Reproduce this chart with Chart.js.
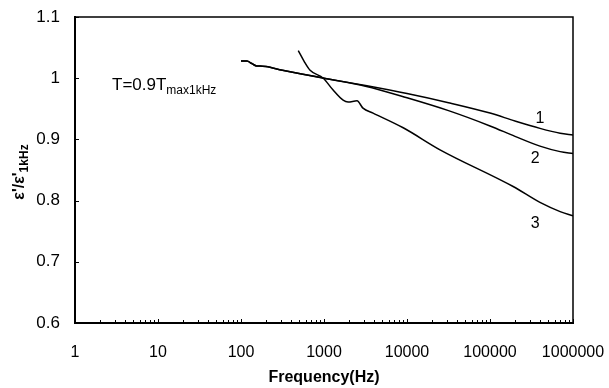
<!DOCTYPE html>
<html>
<head>
<meta charset="utf-8">
<script src="https://cdn.jsdelivr.net/npm/chart.js@4.4.1/dist/chart.umd.min.js"></script>
<style>
  html, body { margin: 0; padding: 0; background: #fff; }
  #wrap { width: 609px; height: 388px; }
</style>
</head>
<body>
<div id="wrap"><canvas id="chart"></canvas></div>
<script>
// frequency (Hz) / normalised permittivity
const curve1Freq = [100, 118, 135, 155, 170, 200, 316, 1000, 3162, 10000, 31623, 100000, 200000, 400000, 700000, 1000000]
const curve1Val  = [1.028, 1.028, 1.024, 1.020, 1.020, 1.019, 1.013, 1.000, 0.988, 0.975, 0.960, 0.943, 0.930, 0.918, 0.910, 0.907]

const curve2Freq = [100, 118, 135, 155, 170, 200, 316, 1000, 3162, 10000, 31623, 100000, 200000, 400000, 700000, 1000000]
const curve2Val  = [1.028, 1.028, 1.024, 1.020, 1.020, 1.019, 1.013, 1.000, 0.987, 0.968, 0.947, 0.922, 0.905, 0.889, 0.880, 0.877]

const curve3Freq = [490, 574, 680, 980, 1280, 1700, 1950, 2500, 2950, 3900, 9000, 25000, 190000, 400000, 700000, 1000000]
const curve3Val  = [1.045, 1.028, 1.013, 1.000, 0.981, 0.964, 0.961, 0.963, 0.951, 0.943, 0.919, 0.883, 0.823, 0.797, 0.782, 0.775]

const xTickValues = [1, 10, 100, 1000, 10000, 100000, 1000000]
const curveLabels = ['1', '2', '3']
const curveLabelPos = [[400000, 0.934], [350000, 0.868], [350000, 0.762]]

const FONT = "'Liberation Sans', Arial, sans-serif"

function toPoints (xs, ys) {
  return xs.map((x, i) => ({ x: x, y: ys[i] }))
}

function lineSet (xs, ys) {
  return {
    data: toPoints(xs, ys),
    showLine: true,
    borderColor: '#000',
    borderWidth: 1.5,
    pointRadius: 0,
    cubicInterpolationMode: 'monotone',
    fill: false
  }
}

// no extra room for overhanging tick labels, layout.padding decides the plot box
function noOverhang (scale) {
  scale.paddingLeft = 0
  scale.paddingRight = 0
  scale.paddingTop = 0
  scale.paddingBottom = 0
}

const decorations = {
  id: 'decorations',
  afterDraw (chart) {
    const ctx = chart.ctx
    const area = chart.chartArea
    const xs = chart.scales.x
    const ys = chart.scales.y
    ctx.save()
    ctx.strokeStyle = '#000'
    ctx.fillStyle = '#000'

    // frame top + right
    ctx.lineWidth = 1.5
    ctx.beginPath()
    ctx.moveTo(area.left, area.top)
    ctx.lineTo(area.right, area.top)
    ctx.lineTo(area.right, area.bottom)
    ctx.stroke()

    // inward ticks
    ctx.lineWidth = 1
    ctx.beginPath()
    for (let d = 0; d < 6; d++) {
      for (let m = 2; m <= 10; m++) {
        const px = Math.round(xs.getPixelForValue(m * Math.pow(10, d))) + 0.5
        const len = m === 10 ? 4 : 3
        ctx.moveTo(px, area.bottom)
        ctx.lineTo(px, area.bottom - len)
      }
    }
    ys.ticks.forEach(t => {
      const py = Math.round(ys.getPixelForValue(t.value)) + 0.5
      ctx.moveTo(area.left, py)
      ctx.lineTo(area.left + 4, py)
    })
    ctx.stroke()

    // curve numbers
    ctx.font = '16px ' + FONT
    ctx.textAlign = 'center'
    ctx.textBaseline = 'middle'
    curveLabels.forEach((lbl, i) => {
      ctx.fillText(lbl, xs.getPixelForValue(curveLabelPos[i][0]), ys.getPixelForValue(curveLabelPos[i][1]))
    })

    // annotation T=0.9Tmax1kHz
    ctx.textAlign = 'left'
    ctx.textBaseline = 'alphabetic'
    ctx.font = '17px ' + FONT
    const ax = 112
    const ay = 90
    ctx.fillText('T=0.9T', ax, ay)
    const w = ctx.measureText('T=0.9T').width
    ctx.font = '12px ' + FONT
    ctx.fillText('max1kHz', ax + w, ay + 4)

    // x title
    ctx.font = 'bold 16px ' + FONT
    ctx.textAlign = 'center'
    ctx.textBaseline = 'middle'
    ctx.fillText('Frequency(Hz)', (area.left + area.right) / 2, 378)

    // y title (rotated, with subscript)
    ctx.translate(19, 172)
    ctx.rotate(-Math.PI / 2)
    ctx.textAlign = 'left'
    ctx.textBaseline = 'alphabetic'
    ctx.font = 'bold 16px ' + FONT
    const main = "ε'/ε'"
    const mw = ctx.measureText(main).width
    ctx.font = 'bold 12px ' + FONT
    const sw = ctx.measureText('1kHz').width
    const start = -(mw + sw) / 2
    ctx.font = 'bold 16px ' + FONT
    ctx.fillText(main, start, 5)
    ctx.font = 'bold 12px ' + FONT
    ctx.fillText('1kHz', start + mw, 9)
    ctx.restore()
  }
}

new Chart(document.getElementById('chart').getContext('2d'), {
  type: 'scatter',
  data: {
    datasets: [
      lineSet(curve1Freq, curve1Val),
      lineSet(curve2Freq, curve2Val),
      lineSet(curve3Freq, curve3Val)
    ]
  },
  options: {
    responsive: true,
    maintainAspectRatio: false,
    animation: false,
    layout: { padding: { top: 17, right: 36, left: 0, bottom: 0 } },
    plugins: { legend: { display: false }, tooltip: { enabled: false } },
    scales: {
      x: {
        type: 'logarithmic',
        min: 1,
        max: 1000000,
        afterBuildTicks: (scale) => { scale.ticks = xTickValues.map(v => ({ value: v })) },
        afterFit: (scale) => { scale.height = 65; noOverhang(scale) },
        ticks: {
          callback: (v) => String(v),
          color: '#000',
          font: { family: FONT, size: 16 },
          padding: 20,
          maxRotation: 0,
          autoSkip: false
        },
        grid: { display: false, drawTicks: false },
        border: { display: true, color: '#000', width: 2 }
      },
      y: {
        min: 0.6,
        max: 1.1,
        afterFit: (scale) => { scale.width = 75; noOverhang(scale) },
        ticks: {
          stepSize: 0.1,
          callback: (v) => String(Math.round(v * 10) / 10),
          color: '#000',
          font: { family: FONT, size: 17 },
          padding: 15
        },
        grid: { display: false, drawTicks: false },
        border: { display: true, color: '#000', width: 2 }
      }
    }
  },
  plugins: [decorations]
})
</script>
</body>
</html>
